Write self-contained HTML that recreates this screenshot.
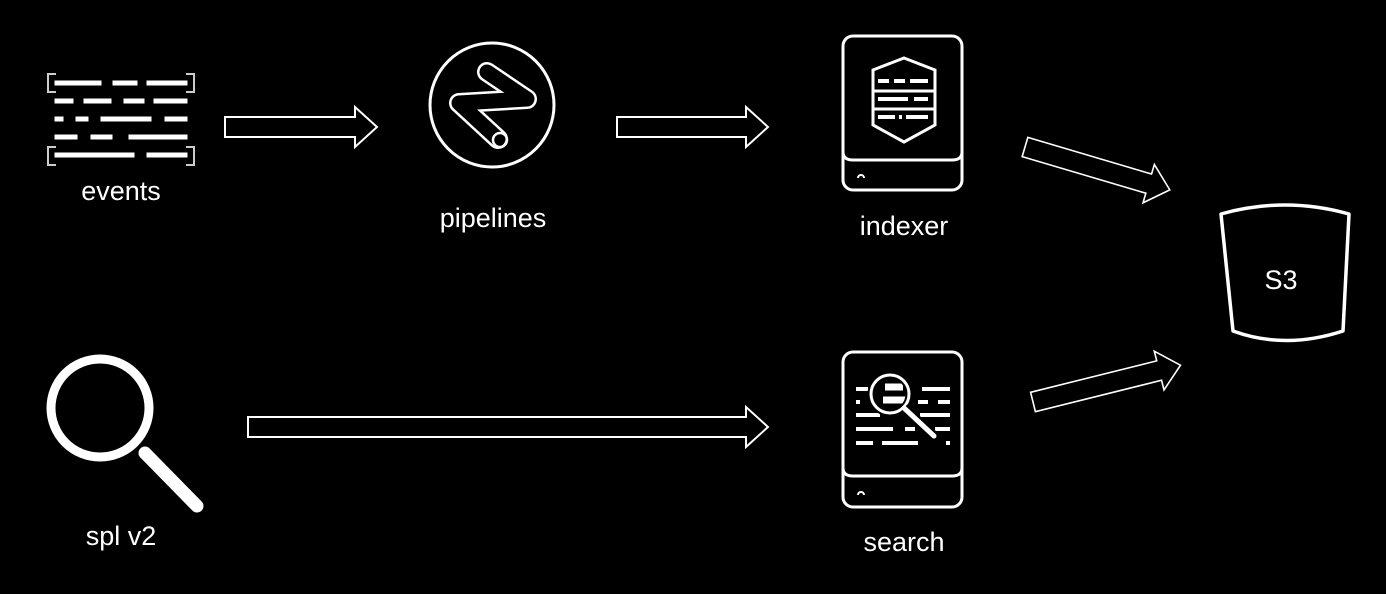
<!DOCTYPE html>
<html><head><meta charset="utf-8"><style>
html,body{margin:0;padding:0;background:#000;}
svg{display:block}
text{font-family:"Liberation Sans",Arial,sans-serif;fill:#fff;font-size:27px;text-anchor:middle}
</style></head><body>
<svg width="1386" height="594" viewBox="0 0 1386 594" xmlns="http://www.w3.org/2000/svg">
<g fill="none" stroke="#fff" stroke-width="2">
<polygon points="225,117 355,117 355,107 377,127 355,147 355,137 225,137"/>
<polygon points="617,117 746,117 746,107 768,127 746,147 746,137 617,137"/>
<polygon points="248,417 746,417 746,407 768,427 746,447 746,437 248,437"/>
<g transform="translate(1025,147) rotate(16.5)" stroke-width="1.6">
<polygon points="0,-10 129,-10 129,-20 151,0 129,20 129,10 0,10"/>
</g>
<g transform="translate(1033,402) rotate(-14)" stroke-width="1.6">
<polygon points="0,-10 130,-10 130,-20 152,0 130,20 130,10 0,10"/>
</g>
</g>

<!-- events icon -->
<g stroke="#fff" stroke-width="5" stroke-linecap="square" fill="none">
<g stroke="#ccc" stroke-width="2">
<path d="M55,74 H48 V92 H55"/><path d="M187,74 H194 V92 H187"/>
<path d="M55,147 H48 V165 H55"/><path d="M187,147 H194 V165 H187"/>
</g>
<path d="M57,83 H99 M115,83 H135 M149,83 H185"/>
<path d="M57,101 H71 M86,101 H109 M126,101 H142 M156,101 H185"/>
<path d="M57,119 H61 M78,119 H86 M103,119 H149 M167,119 H185"/>
<path d="M57,137 H75 M93,137 H110 M131,137 H185"/>
<path d="M57,155 H132 M149,155 H185"/>
</g>
<text x="121" y="200">events</text>

<!-- pipelines -->
<circle cx="492" cy="105" r="62" fill="none" stroke="#fff" stroke-width="3"/>
<path d="M487,72 L527,99 L459,103 L498,139" fill="none" stroke="#fff" stroke-width="20" stroke-linejoin="round" stroke-linecap="round"/>
<path d="M487,72 L527,99 L459,103 L498,139" fill="none" stroke="#000" stroke-width="15" stroke-linejoin="round" stroke-linecap="round"/>
<circle cx="500" cy="140" r="7" fill="none" stroke="#fff" stroke-width="2.5"/>
<text x="493" y="227">pipelines</text>

<!-- indexer -->
<g fill="none" stroke="#fff" stroke-width="3">
<rect x="843" y="36" width="119" height="154" rx="10"/>
<path d="M843,152 Q843,160 853,160 H952 Q962,160 962,152"/>
<path d="M904,58 L935,70 V125 L904,142 L873,125 V70 Z"/>
<path d="M873,91 H935 M873,109 H935"/>
</g>
<g stroke="#fff" stroke-width="4">
<path d="M878,81 H889 M894,81 H905 M910,81 H928"/>
<path d="M878,99 H908 M914,99 H928"/>
<path d="M878,117 H895 M899,117 H902 M906,117 H928"/>
</g>
<path d="M858,178 a3,3 0 0 1 6,0" fill="none" stroke="#fff" stroke-width="2"/>
<text x="904" y="235">indexer</text>

<!-- search -->
<g fill="none" stroke="#fff" stroke-width="3">
<rect x="843" y="352" width="119" height="155" rx="10"/>
<path d="M843,468 Q843,476 853,476 H952 Q962,476 962,468"/>
</g>
<g stroke="#fff" stroke-width="4">
<path d="M856,389 H868 M922,389 H950"/>
<path d="M856,402 H860 M918,402 H928 M938,402 H950"/>
<path d="M856,415 H880 M920,415 H950"/>
<path d="M856,429 H893 M905,429 H915 M935,429 H950"/>
<path d="M856,443 H873 M882,443 H918 M946,443 H950"/>
</g>
<path d="M885,387 H903 M883,400 H908" stroke="#fff" stroke-width="7"/>
<circle cx="890" cy="394" r="19" fill="none" stroke="#000" stroke-width="7"/>
<circle cx="890" cy="394" r="19" fill="none" stroke="#fff" stroke-width="3"/>
<path d="M904,408 L935,437" stroke="#000" stroke-width="10"/>
<path d="M904,408 L934,436" stroke="#fff" stroke-width="5" stroke-linecap="round"/>
<path d="M858,495 a3,3 0 0 1 6,0" fill="none" stroke="#fff" stroke-width="2"/>
<text x="904" y="551">search</text>

<!-- spl v2 -->
<circle cx="100" cy="408" r="49" fill="none" stroke="#fff" stroke-width="9"/>
<path d="M145,453 L197,506" stroke="#fff" stroke-width="13" stroke-linecap="round"/>
<text x="121" y="545">spl v2</text>

<!-- S3 -->
<path d="M1221,214 Q1285,196 1349,214 L1343,331 Q1285,350 1233,331 Z" fill="none" stroke="#fff" stroke-width="3.5" stroke-linejoin="round"/>
<text x="1281" y="289">S3</text>
</svg>
</body></html>
